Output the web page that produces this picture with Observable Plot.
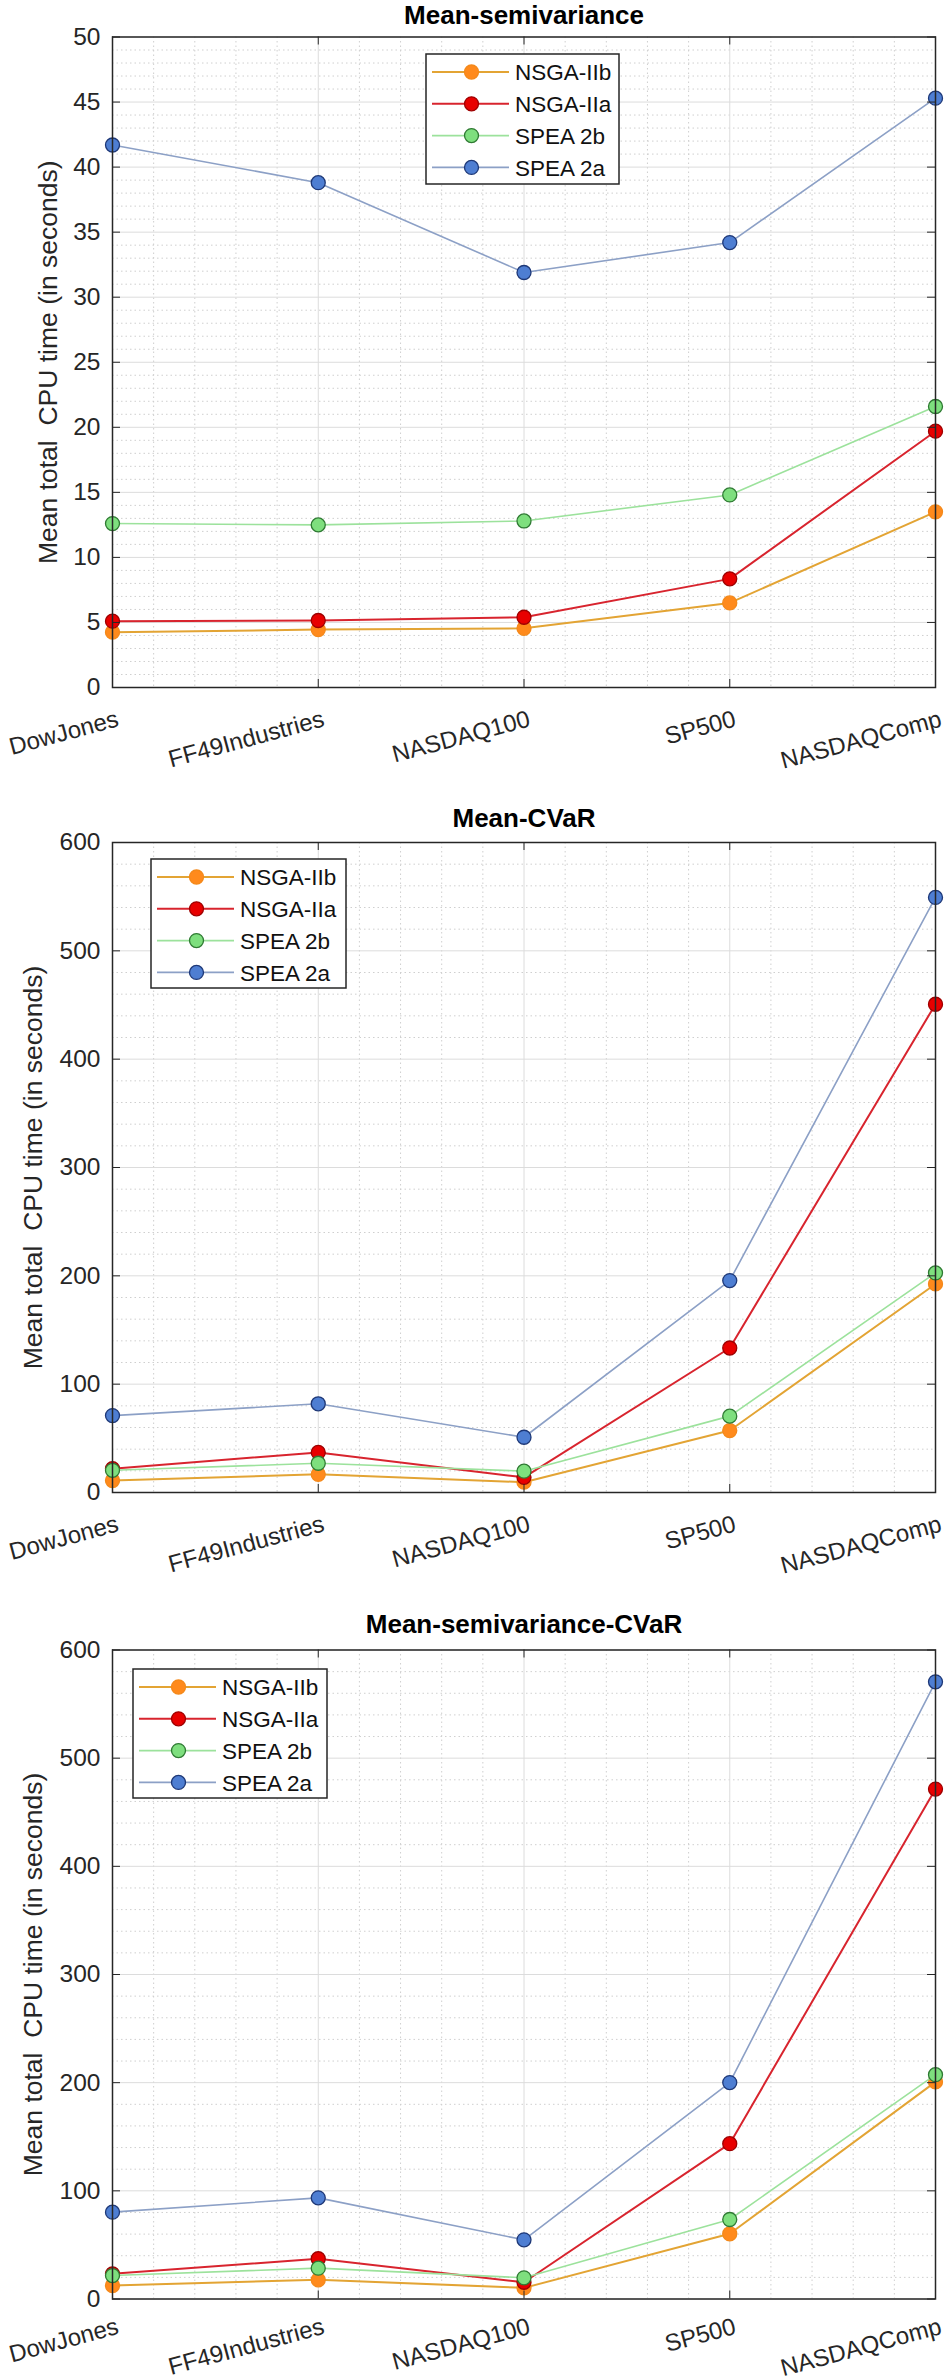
<!DOCTYPE html>
<html><head><meta charset="utf-8">
<script src="https://cdn.jsdelivr.net/npm/d3@7"></script>
<script src="https://cdn.jsdelivr.net/npm/@observablehq/plot@0.6"></script>
<style>
body{margin:0;background:#fff;}
#root{position:relative;width:947px;height:2380px;overflow:hidden;font-family:"Liberation Sans",Arial,sans-serif;background:#fff;}
.panel{position:absolute;left:0;line-height:0;}
.panel svg{overflow:visible;}
</style></head><body><div id="root"></div>
<script>
const categories = ["DowJones","FF49Industries","NASDAQ100","SP500","NASDAQComp"];
const seriesNames = ["NSGA-IIb","NSGA-IIa","SPEA 2b","SPEA 2a"];
const yLabel = "Mean total  CPU time (in seconds)";
const titles = ["Mean-semivariance","Mean-CVaR","Mean-semivariance-CVaR"];

// Mean-semivariance
const msvNSGAIIb = [4.25, 4.45, 4.55, 6.5, 13.5];
const msvNSGAIIa = [5.1, 5.15, 5.4, 8.35, 19.7];
const msvSPEA2b  = [12.6, 12.5, 12.8, 14.8, 21.6];
const msvSPEA2a  = [41.7, 38.8, 31.9, 34.2, 45.3];
// Mean-CVaR
const mcvNSGAIIb = [11.1, 16.8, 9.5, 57.2, 192.5];
const mcvNSGAIIa = [22, 37, 14, 133.4, 450.7];
const mcvSPEA2b  = [20.5, 27, 19.7, 70.5, 202.7];
const mcvSPEA2a  = [71, 81.9, 51, 195.6, 549.3];
// Mean-semivariance-CVaR
const mscNSGAIIb = [12.5, 17.7, 10.3, 60.3, 200.7];
const mscNSGAIIa = [23.3, 37.2, 15.5, 143.6, 471.4];
const mscSPEA2b  = [21.7, 28.5, 19.6, 73.5, 207.4];
const mscSPEA2a  = [80.3, 93.5, 54.7, 200.1, 570.6];

const yTicksSmall = [0,5,10,15,20,25,30,35,40,45,50];
const yTicksLarge = [0,100,200,300,400,500,600];

const styles = [
  {line:"#E3A434", fill:"#FF8A1C", stroke:"#F4891A", sw:2},
  {line:"#D8242E", fill:"#E80000", stroke:"#9E0000", sw:2},
  {line:"#9CE29C", fill:"#7EDF7E", stroke:"#2F7A33", sw:1.6},
  {line:"#8CA0C6", fill:"#4E7ED2", stroke:"#1E3877", sw:1.6}
];

const FONT = '"Liberation Sans", Arial, sans-serif';
const INK = "#262626";
const ML = 112, MR = 12, W = 947;

function makePanel(cfg) {
  const plotW = W - ML - MR;
  const plotH = cfg.height - cfg.mt - cfg.mb;
  const rows = [];
  cfg.series.forEach((vals, s) => vals.forEach((v, i) => rows.push({s, i, v})));
  const minorX = d3.range(1, 20).filter(k => k % 5 !== 0).map(k => k / 5);
  const nMinor = Math.round(cfg.ymax / cfg.minor);
  const minorY = d3.range(1, nMinor).filter(k => (k * cfg.minor) % cfg.major !== 0).map(k => k * cfg.minor);
  const marks = [
    Plot.ruleY(minorY, {y: d => d, stroke: "#cfcfcf", strokeDasharray: "1.5,3"}),
    Plot.ruleX(minorX, {x: d => d, stroke: "#cfcfcf", strokeDasharray: "1.5,3"}),
    Plot.ruleY(cfg.ticks, {y: d => d, stroke: "#dcdcdc"}),
    Plot.ruleX(d3.range(categories.length), {x: d => d, stroke: "#dcdcdc"})
  ];
  cfg.series.forEach((vals, s) => {
    const st = styles[s];
    const d = rows.filter(r => r.s === s);
    marks.push(Plot.line(d, {x: "i", y: "v", stroke: st.line, strokeWidth: st.sw}));
    marks.push(Plot.dot(d, {x: "i", y: "v", r: 7, fill: st.fill, stroke: st.stroke, strokeWidth: 1.3}));
  });
  marks.push(
    Plot.frame({stroke: INK, strokeWidth: 1.5}),
    Plot.tickY(cfg.ticks, {y: d => d, stroke: INK, insetRight: plotW - 8}),
    Plot.tickY(cfg.ticks, {y: d => d, stroke: INK, insetLeft: plotW - 8}),
    Plot.tickX(d3.range(categories.length), {x: d => d, stroke: INK, insetTop: plotH - 8}),
    Plot.tickX(d3.range(categories.length), {x: d => d, stroke: INK, insetBottom: plotH - 8}),
    Plot.axisY(cfg.ticks, {tickSize: 0, tickPadding: 12, fill: INK, fontSize: 24.5, label: null}),
    Plot.text(categories, {x: (d, i) => i, frameAnchor: "bottom", dx: 3, dy: cfg.labelDy, rotate: -15, textAnchor: "end", lineAnchor: "top", fontSize: 24, fill: INK}),
    Plot.text([cfg.title], {frameAnchor: "top", dy: cfg.titleDy, lineAnchor: "middle", fontWeight: "bold", fontSize: 26, fill: "#000"}),
    Plot.text([yLabel], {frameAnchor: "left", dx: cfg.labelX - ML, rotate: -90, lineAnchor: "middle", textAnchor: "middle", fontSize: 26.5, fill: INK})
  );
  const chart = Plot.plot({
    width: W, height: cfg.height,
    marginLeft: ML, marginRight: MR, marginTop: cfg.mt, marginBottom: cfg.mb,
    x: {type: "linear", domain: [0, categories.length - 1], axis: null},
    y: {domain: [0, cfg.ymax]},
    style: {fontFamily: FONT, fontSize: "24px", color: INK, background: "transparent", overflow: "visible"},
    marks
  });
  const div = document.createElement("div");
  div.className = "panel";
  div.style.top = cfg.top + "px";
  div.appendChild(chart);
  document.getElementById("root").appendChild(div);

  // legend
  const L = cfg.legend;
  const svg = d3.create("svg").attr("width", L.w + 4).attr("height", L.h + 4)
    .style("position", "absolute").style("left", (L.x - 2) + "px").style("top", (L.y - 2) + "px");
  svg.append("rect").attr("x", 2).attr("y", 2).attr("width", L.w).attr("height", L.h)
    .attr("fill", "white").attr("stroke", INK).attr("stroke-width", 1.5);
  seriesNames.forEach((name, k) => {
    const st = styles[k];
    const cy = 2 + 18 + 31.8 * k;
    svg.append("line").attr("x1", 2 + 6).attr("x2", 2 + 83).attr("y1", cy).attr("y2", cy)
      .attr("stroke", st.line).attr("stroke-width", st.sw);
    svg.append("circle").attr("cx", 2 + 45.5).attr("cy", cy).attr("r", 7)
      .attr("fill", st.fill).attr("stroke", st.stroke).attr("stroke-width", 1.3);
    svg.append("text").attr("x", 2 + 89).attr("y", cy).attr("dy", "0.36em")
      .attr("font-family", FONT).attr("font-size", 22.5).attr("fill", "#111").text(name);
  });
  document.getElementById("root").appendChild(svg.node());
}

makePanel({top: 0, height: 800, mt: 36.5, mb: 113, ymax: 50, ticks: yTicksSmall, major: 5, minor: 1,
  series: [msvNSGAIIb, msvNSGAIIa, msvSPEA2b, msvSPEA2a], title: titles[0], titleDy: -21.5, labelX: 48, labelDy: 22,
  legend: {x: 426, y: 53.5, w: 193, h: 130}});
makePanel({top: 800, height: 800, mt: 42, mb: 108, ymax: 600, ticks: yTicksLarge, major: 100, minor: 20,
  series: [mcvNSGAIIb, mcvNSGAIIa, mcvSPEA2b, mcvSPEA2a], title: titles[1], titleDy: -24, labelX: 33, labelDy: 22,
  legend: {x: 151, y: 859, w: 195, h: 129}});
makePanel({top: 1600, height: 780, mt: 49.5, mb: 81.5, ymax: 600, ticks: yTicksLarge, major: 100, minor: 20,
  series: [mscNSGAIIb, mscNSGAIIa, mscSPEA2b, mscSPEA2a], title: titles[2], titleDy: -25.5, labelX: 33, labelDy: 18,
  legend: {x: 133, y: 1669, w: 194, h: 129}});
</script></body></html>
